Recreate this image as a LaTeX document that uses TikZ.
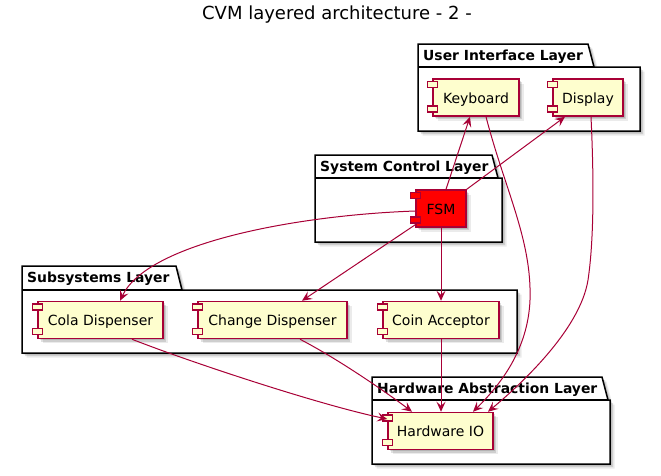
\documentclass[tikz,border=0pt]{standalone}
\usepackage{fontspec}
\setmainfont{DejaVu Sans}
\usetikzlibrary{arrows.meta,shadows}
\definecolor{crim}{HTML}{A80036}
\definecolor{cyel}{HTML}{FEFECE}
\definecolor{fsmred}{HTML}{FF0000}
\tikzset{
  softshadow/.style={
    drop shadow={shadow xshift=1.5pt,shadow yshift=-1.5pt,opacity=.12,fill=black},
    drop shadow={shadow xshift=3pt,shadow yshift=-3pt,opacity=.12,fill=black},
    drop shadow={shadow xshift=4.5pt,shadow yshift=-4.5pt,opacity=.08,fill=black}},
  comp/.style={draw=crim, line width=1.5pt, fill=cyel, inner sep=0pt,
    text height=12pt, text depth=1pt, minimum height=37pt,
    font=\fontsize{14}{16}\selectfont, softshadow},
  ctab/.style={draw=crim, line width=1.5pt, fill=cyel},
  pkg/.style={draw=black, line width=1.5pt, fill=white, line join=miter, softshadow},
  pkgline/.style={draw=black, line width=1.5pt},
  ptitle/.style={font=\bfseries\fontsize{13.9}{16}\selectfont, anchor=base west, inner sep=0pt},
  conn/.style={draw=crim, line width=1pt, -{Stealth[length=10pt,width=9pt,inset=4pt]}},
}
\newcommand\comptabs[2]{%
  \draw[ctab,fill=#2] ([xshift=-5pt,yshift=-3pt]#1.north west) rectangle ++(10,6);
  \draw[ctab,fill=#2] ([xshift=-5pt,yshift=11pt]#1.south west) rectangle ++(10,6);
}
\newcommand\pkgdraw[9]{%
  \draw[pkg] (#1,#2) -- (#3,#2) -- (#4,#5) -- (#6,#5) -- (#6,#7) -- (#1,#7) -- cycle;
  \draw[pkgline] (#1,#5) -- (#4,#5);
  \node[ptitle] (#9) at (#1+5,#2+16) {#8};
}
\begin{document}
\begin{tikzpicture}[x=1pt,y=-1pt]
\useasboundingbox (0,0) rectangle (661,475);
\node[font=\fontsize{18}{20}\selectfont, anchor=base, inner sep=0pt] (title) at (337,19.5) {CVM layered architecture - 2 -};

% packages
\pkgdraw{418}{44}{588}{594}{67}{640}{131}{User Interface Layer}{uil}
\pkgdraw{315}{155}{492}{498}{178}{502}{242}{System Control Layer}{scl}
\pkgdraw{22}{266}{176}{182}{290}{517}{353}{Subsystems Layer}{ssl}
\pkgdraw{372}{377}{602}{608}{400}{610}{464}{Hardware Abstraction Layer}{hal}

% components
\node[comp, minimum width=86pt] (kb) at (476,97.5) {Keyboard};
\comptabs{kb}{cyel}
\node[comp, minimum width=70pt] (disp) at (588,97.5) {Display};
\comptabs{disp}{cyel}
\node[comp, minimum width=50pt, fill=fsmred] (fsm) at (441,208.5) {FSM};
\comptabs{fsm}{fsmred}
\node[comp, minimum width=125pt] (cola) at (100.5,320) {Cola Dispenser};
\comptabs{cola}{cyel}
\node[comp, minimum width=149pt] (change) at (272.5,320) {Change Dispenser};
\comptabs{change}{cyel}
\node[comp, minimum width=116pt] (coin) at (441,320) {Coin Acceptor};
\comptabs{coin}{cyel}
\node[comp, minimum width=105pt] (hio) at (440.5,431) {Hardware IO};
\comptabs{hio}{cyel}

% connectors
\draw[conn] ([xshift=5pt]fsm.north) -- ([xshift=-6pt]kb.south);
\draw[conn] (fsm.north east) -- ([xshift=-23pt]disp.south);
\draw[conn] ([xshift=10pt]kb.south) .. controls (505,190) and (532,240) .. (530,300)
   .. controls (528,350) and (500,385) .. ([xshift=32.5pt]hio.north);
\draw[conn] ([xshift=3pt]disp.south) .. controls (594,180) and (594,240) .. (588,280)
   .. controls (580,330) and (520,385) .. ([xshift=47.5pt]hio.north);
\draw[conn] ([yshift=-2.5pt]fsm.west) .. controls (300,215) and (148,242) .. ([xshift=19.5pt]cola.north);
\draw[conn] ([yshift=3pt]fsm.south west) -- ([xshift=29.5pt]change.north);
\draw[conn] (fsm.south) -- (coin.north);
\draw[conn] ([xshift=31.5pt]cola.south) .. controls (190,362) and (320,405) .. ([yshift=12pt]hio.west);
\draw[conn] ([xshift=27.5pt]change.south) .. controls (340,360) and (390,395) .. ([xshift=-28.5pt]hio.north);
\draw[conn] (coin.south) -- (coin.south |- hio.north);
\end{tikzpicture}
\end{document}
